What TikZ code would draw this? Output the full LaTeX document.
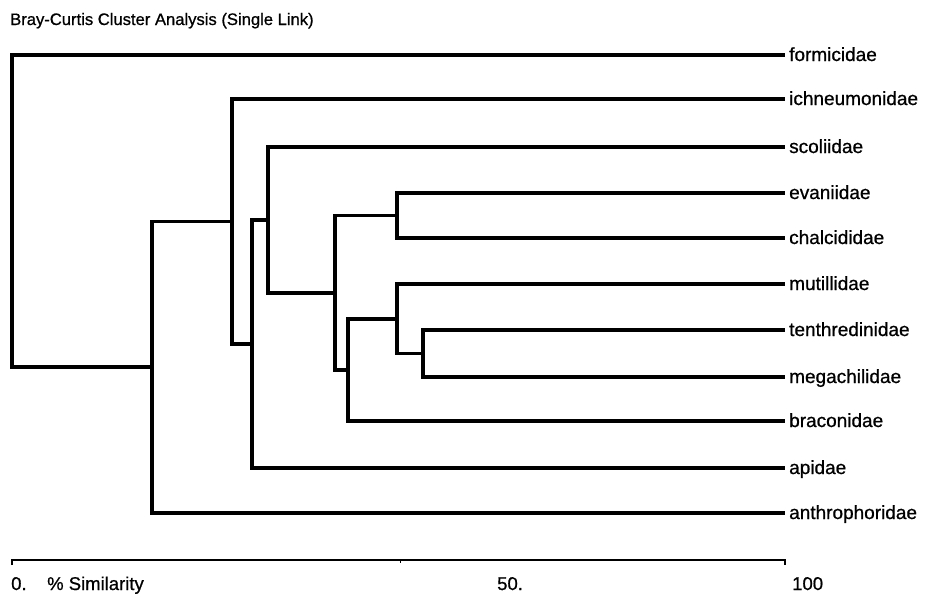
\documentclass[tikz,border=0pt]{standalone}
\usepackage{fontspec}
\setmainfont{Liberation Sans}[FakeBold=0.8]
\begin{document}
\begin{tikzpicture}[x=1pt,y=-1pt,
  branch/.style={line width=3.2pt,line join=miter,line cap=rect},
  axisline/.style={line width=2.4pt},
  leaf/.style={anchor=west,inner xsep=6pt,inner ysep=0pt,text height=12pt,text depth=0pt,font=\fontsize{19}{22}\selectfont},
  axlabel/.style={anchor=base west,inner sep=0pt,font=\fontsize{18.5}{22}\selectfont},
  titlestyle/.style={anchor=base west,inner sep=0pt,font=\fontsize{16.6}{20}\selectfont}]
\useasboundingbox (0,0) rectangle (925,597);
\node[titlestyle] (title) at (10,25) {Bray-Curtis Cluster Analysis (Single Link)};
% leaves
\node[leaf] (formicidae) at (783,55) {formicidae};
\node[leaf] (ichneumonidae) at (783,99) {ichneumonidae};
\node[leaf] (scoliidae) at (783,147) {scoliidae};
\node[leaf] (evaniidae) at (783,193) {evaniidae};
\node[leaf] (chalcididae) at (783,238) {chalcididae};
\node[leaf] (mutillidae) at (783,284) {mutillidae};
\node[leaf] (tenthredinidae) at (783,330) {tenthredinidae};
\node[leaf] (megachilidae) at (783,377) {megachilidae};
\node[leaf] (braconidae) at (783,421) {braconidae};
\node[leaf] (apidae) at (783,468) {apidae};
\node[leaf] (anthrophoridae) at (783,513) {anthrophoridae};
% internal nodes
\coordinate (n423) at (423,353.5);
\coordinate (n397b) at (397,319);
\coordinate (n348) at (348,370);
\coordinate (n397a) at (397,215.5);
\coordinate (n335) at (335,293);
\coordinate (n268) at (268,220);
\coordinate (n252) at (252,344);
\coordinate (n232) at (232,221.5);
\coordinate (n152) at (152,367);
\coordinate (root) at (12,211);
% brackets
\draw[branch] (tenthredinidae.west) -| (n423) |- (megachilidae.west);
\draw[branch] (mutillidae.west) -| (n397b) |- (n423);
\draw[branch] (n397b) -| (n348) |- (braconidae.west);
\draw[branch] (evaniidae.west) -| (n397a) |- (chalcididae.west);
\draw[branch] (n397a) -| (n335) |- (n348);
\draw[branch] (scoliidae.west) -| (n268) |- (n335);
\draw[branch] (n268) -| (n252) |- (apidae.west);
\draw[branch] (ichneumonidae.west) -| (n232) |- (n252);
\draw[branch] (n232) -| (n152) |- (anthrophoridae.west);
\draw[branch] (formicidae.west) -| (root) |- (n152);
% axis
\coordinate (ax0) at (12,560);
\coordinate (ax50) at (400,560);
\coordinate (ax100) at (785,560);
\draw[axisline] ([yshift=-5pt]ax0) -- (ax0) -- (ax100) -- ([yshift=-5pt]ax100);
\draw[line width=1pt] (ax50) -- ([yshift=-3pt]ax50);
\node[axlabel] (l0) at (11,590) {0.};
\node[axlabel] (lsim) at (47,590) {\% Similarity};
\node[axlabel] (l50) at (497,590) {50.};
\node[axlabel] (l100) at (792,590) {100};
\end{tikzpicture}
\end{document}
